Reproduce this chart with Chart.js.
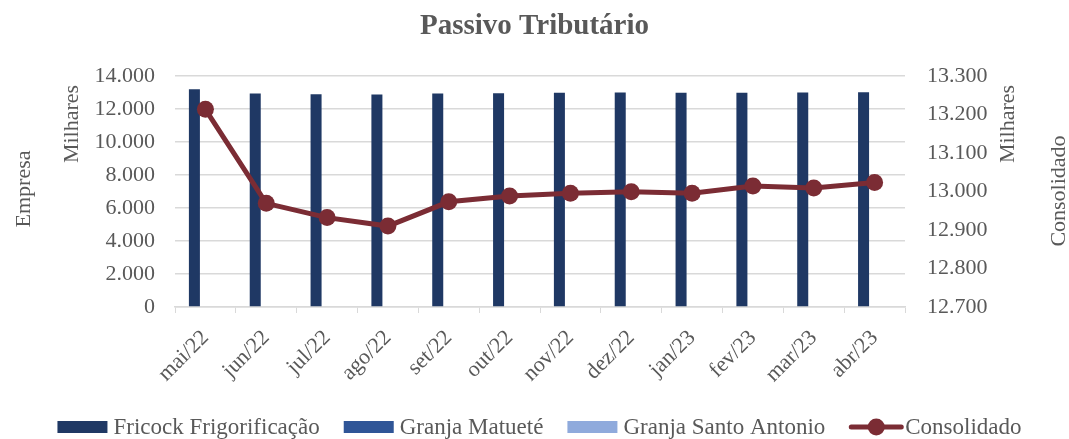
<!DOCTYPE html>
<html>
<head>
<meta charset="utf-8">
<script src="https://cdn.jsdelivr.net/npm/chart.js@4/dist/chart.umd.min.js"></script>
<style>
  html,body{margin:0;padding:0;background:#fff;}
  #wrap{width:1069px;height:439px;}
</style>
</head>
<body>
<div id="wrap"><canvas id="c" width="1069" height="439"></canvas></div>
<script>
const categories = ["mai/22","jun/22","jul/22","ago/22","set/22","out/22","nov/22","dez/22","jan/23","fev/23","mar/23","abr/23"];
const fricock = [13190,12935,12890,12870,12935,12950,12970,12990,12970,12970,12990,13010];
const matuete = [0,0,0,0,0,0,0,0,0,0,0,0];
const santoAntonio = [0,0,0,0,0,0,0,0,0,0,0,0];
const consolidado = [13213,12969,12932,12910,12973,12988,12995,12999,12995,13014,13009,13023];
const leftTicks = {min:0, max:14000, step:2000};
const rightTicks = {min:12700, max:13300, step:100};

const FONT = "'Liberation Serif', 'Times New Roman', serif";
const GRAY = '#595959';
const C_FRI = '#1F3864', C_MAT = '#2F5597', C_SAN = '#8FAADC', C_CON = '#7B2C34';

function fmt(v){
  const s = Math.round(v).toString();
  return s.replace(/\B(?=(\d{3})+(?!\d))/g, '.');
}

const axisTitles = {
  id:'axisTitles',
  afterDraw(chart){
    const ctx = chart.ctx;
    ctx.save();
    ctx.fillStyle = GRAY;
    ctx.font = "22px " + FONT;
    ctx.textAlign = 'center';
    ctx.textBaseline = 'middle';
    const items = [["Empresa",24,189],["Milhares",72,124],["Milhares",1008,124],["Consolidado",1059,191]];
    for (const [t,x,y] of items){
      ctx.save(); ctx.translate(x,y); ctx.rotate(-Math.PI/2); ctx.fillText(t,0,0); ctx.restore();
    }
    ctx.restore();
  }
};

const customLegend = {
  id:'customLegend',
  afterDraw(chart){
    const ctx = chart.ctx;
    const order = [1,2,3,0];
    ctx.save();
    ctx.font = "23px " + FONT;
    ctx.textBaseline = 'middle';
    ctx.textAlign = 'left';
    const symW = 50, txtGap = 6, itemGap = 24, cy = 427;
    const items = order.map(di=>{
      const ds = chart.data.datasets[di];
      return {ds, tw: ctx.measureText(ds.label).width};
    });
    const total = items.reduce((a,it)=>a+symW+txtGap+it.tw,0) + itemGap*(items.length-1);
    let x = 539.5 - total/2;
    for (const it of items){
      const ds = it.ds;
      if (ds.type === 'line'){
        ctx.strokeStyle = ds.borderColor; ctx.lineWidth = 5; ctx.lineCap='round';
        ctx.beginPath(); ctx.moveTo(x+2,cy); ctx.lineTo(x+symW+2,cy); ctx.stroke();
        ctx.fillStyle = ds.borderColor; ctx.beginPath(); ctx.arc(x+symW/2+2,cy,8.5,0,Math.PI*2); ctx.fill();
      } else {
        ctx.fillStyle = ds.backgroundColor;
        ctx.fillRect(x, cy-6, symW, 12);
      }
      ctx.fillStyle = GRAY;
      ctx.fillText(ds.label, x+symW+txtGap, cy+1);
      x += symW + txtGap + it.tw + itemGap;
    }
    ctx.restore();
  }
};

new Chart(document.getElementById('c'), {
  type:'bar',
  data:{
    labels: categories,
    datasets:[
      {type:'line', label:'Consolidado', data:consolidado, yAxisID:'y1', borderColor:C_CON, backgroundColor:C_CON,
       borderWidth:5, pointRadius:8.5, pointHoverRadius:8.5, pointBackgroundColor:C_CON, pointBorderWidth:0, tension:0, order:0},
      {label:'Fricock Frigorificação', data:fricock, backgroundColor:C_FRI, yAxisID:'y', order:1},
      {label:'Granja Matueté', data:matuete, backgroundColor:C_MAT, yAxisID:'y', order:1},
      {label:'Granja Santo Antonio', data:santoAntonio, backgroundColor:C_SAN, yAxisID:'y', order:1}
    ]
  },
  options:{
    responsive:false,
    animation:false,
    layout:{padding:{left:0,right:0,top:0,bottom:38}},
    datasets:{bar:{barPercentage:1.0, categoryPercentage:0.543}},
    plugins:{
      tooltip:{enabled:false},
      legend:{display:false},
      title:{display:true, text:'Passivo Tributário', color:GRAY, font:{family:FONT, size:29, weight:'bold'}, padding:{top:9,bottom:32}}
    },
    scales:{
      x:{
        offset:true,
        grid:{offset:true, drawOnChartArea:false, drawTicks:true, tickLength:6, color:'#d9d9d9'},
        border:{display:true, color:'#d9d9d9', width:1.5},
        ticks:{color:GRAY, font:{family:FONT, size:22}, maxRotation:45, minRotation:45, padding:12},
        afterFit(s){ s.height = 94; }
      },
      y:{
        position:'left', min:leftTicks.min, max:leftTicks.max,
        ticks:{stepSize:leftTicks.step, color:GRAY, font:{family:FONT, size:22}, padding:20, callback:(v)=>fmt(v)},
        grid:{color:'#d9d9d9', lineWidth:1.5, drawTicks:false},
        border:{display:false},
        afterFit(s){ s.width = 175; }
      },
      y1:{
        position:'right', min:rightTicks.min, max:rightTicks.max,
        ticks:{stepSize:rightTicks.step, color:GRAY, font:{family:FONT, size:22}, padding:22, callback:(v)=>fmt(v)},
        grid:{drawOnChartArea:false, drawTicks:false},
        border:{display:false},
        afterFit(s){ s.width = 164; }
      }
    }
  },
  plugins:[axisTitles, customLegend]
});
</script>
</body>
</html>
